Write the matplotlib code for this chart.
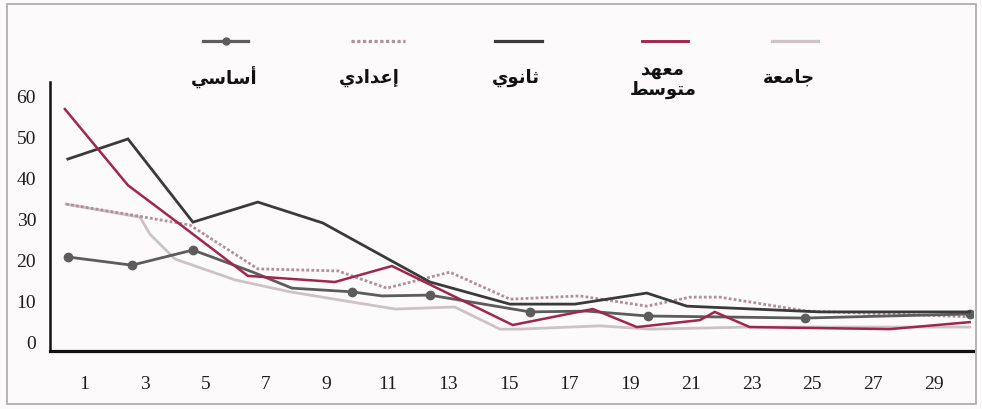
import unicodedata
import matplotlib
matplotlib.use("Agg")
import matplotlib.pyplot as plt
from matplotlib.lines import Line2D
from matplotlib.patches import Rectangle

# ---- data -------------------------------------------------------------
xtick_values = [1, 3, 5, 7, 9, 11, 13, 15, 17, 19, 21, 23, 25, 27, 29]
ytick_values = [0, 10, 20, 30, 40, 50, 60]

basic_x = [0.47, 2.58, 4.59, 6.57, 7.85, 9.83, 10.82, 12.40, 15.70, 17.57, 19.58, 24.76, 30.19]
basic_y = [20.5, 18.5, 22.2, 16.8, 12.9, 12.0, 11.0, 11.2, 7.1, 7.3, 6.1, 5.6, 6.6]
basic_marks = [0, 1, 2, 5, 7, 8, 10, 11, 12]

prep_x = [0.41, 2.78, 4.49, 6.73, 9.37, 10.98, 13.06, 15.04, 17.34, 19.55, 20.97, 21.96, 24.82, 30.19]
prep_y = [33.4, 30.5, 28.3, 17.6, 17.1, 12.9, 16.8, 10.2, 11.0, 8.5, 10.7, 10.7, 7.3, 5.9]

secondary_x = [0.47, 2.45, 4.59, 6.73, 8.87, 12.40, 15.04, 17.18, 19.55, 20.87, 25.25, 30.19]
secondary_y = [44.4, 49.3, 29.0, 33.9, 28.8, 14.4, 9.0, 9.0, 11.7, 8.5, 7.1, 7.1]

institute_x = [0.37, 2.45, 4.16, 6.40, 9.27, 11.15, 15.13, 17.77, 19.22, 21.30, 21.79, 22.94, 27.56, 30.19]
institute_y = [56.6, 38.0, 28.5, 15.9, 14.4, 18.3, 3.9, 7.8, 3.4, 5.1, 7.1, 3.4, 2.9, 4.6]

university_x = [0.41, 2.85, 3.17, 4.00, 5.98, 7.79, 9.60, 11.25, 13.22, 14.71, 15.37, 18.00, 19.65, 22.94, 30.19]
university_y = [33.4, 30.2, 26.1, 20.0, 14.9, 12.0, 9.8, 7.8, 8.3, 2.9, 2.9, 3.7, 2.9, 3.4, 3.4]

labels = ["أساسي", "إعدادي", "ثانوي", "معهد\nمتوسط", "جامعة"]

# ---- minimal Arabic shaping (matplotlib has no contextual layout) -----
FORMS = {
    # letter: (isolated, final, initial, medial)
    "\u0627": ("\uFE8D", "\uFE8E", None, None),
    "\u0623": ("\uFE83", "\uFE84", None, None),
    "\u0625": ("\uFE87", "\uFE88", None, None),
    "\u0629": ("\uFE93", "\uFE94", None, None),
    "\u062A": ("\uFE95", "\uFE96", "\uFE97", "\uFE98"),
    "\u062B": ("\uFE99", "\uFE9A", "\uFE9B", "\uFE9C"),
    "\u062C": ("\uFE9D", "\uFE9E", "\uFE9F", "\uFEA0"),
    "\u062F": ("\uFEA9", "\uFEAA", None, None),
    "\u0633": ("\uFEB1", "\uFEB2", "\uFEB3", "\uFEB4"),
    "\u0637": ("\uFEC1", "\uFEC2", "\uFEC3", "\uFEC4"),
    "\u0639": ("\uFEC9", "\uFECA", "\uFECB", "\uFECC"),
    "\u0645": ("\uFEE1", "\uFEE2", "\uFEE3", "\uFEE4"),
    "\u0646": ("\uFEE5", "\uFEE6", "\uFEE7", "\uFEE8"),
    "\u0647": ("\uFEE9", "\uFEEA", "\uFEEB", "\uFEEC"),
    "\u0648": ("\uFEED", "\uFEEE", None, None),
    "\u064A": ("\uFEF1", "\uFEF2", "\uFEF3", "\uFEF4"),
}


def shape_word(word):
    word = unicodedata.normalize("NFC", word)
    out = []
    n = len(word)
    for i, ch in enumerate(word):
        iso, fin, ini, med = FORMS[ch]
        prev_joins = i > 0 and FORMS[word[i - 1]][2] is not None
        next_joins = i < n - 1 and ini is not None
        if prev_joins and next_joins:
            out.append(med)
        elif prev_joins:
            out.append(fin)
        elif next_joins:
            out.append(ini)
        else:
            out.append(iso)
    return "".join(reversed(out))


def shape(text):
    return "\n".join(shape_word(line) for line in text.split("\n"))


# ---- styling ------------------------------------------------------------
W, H = 982, 410
fig = plt.figure(figsize=(W / 100, H / 100), dpi=100, facecolor="#fcfafa")

ax_left, ax_right, ax_bottom, ax_top = 50, 973, 352, 83
ax = fig.add_axes([ax_left / W, 1 - ax_bottom / H,
                   (ax_right - ax_left) / W, (ax_bottom - ax_top) / H])
ax.set_facecolor("#fcfafa")

series = [
    dict(x=basic_x, y=basic_y, color="#5c5c5c", lw=2.0, ls="-", marker="o",
         ms=6.0, markevery=basic_marks, z=4),
    dict(x=prep_x, y=prep_y, color="#b09098", lw=2.0, ls=(0, (1, 0.8)), marker=None,
         ms=0, markevery=None, z=3),
    dict(x=secondary_x, y=secondary_y, color="#3a3a3a", lw=2.0, ls="-", marker=None,
         ms=0, markevery=None, z=5),
    dict(x=institute_x, y=institute_y, color="#a0254f", lw=1.8, ls="-", marker=None,
         ms=0, markevery=None, z=6),
    dict(x=university_x, y=university_y, color="#cdc2c5", lw=2.0, ls="-", marker=None,
         ms=0, markevery=None, z=2),
]

for s in series:
    ax.plot(s["x"], s["y"], color=s["color"], lw=s["lw"], ls=s["ls"],
            marker=s["marker"], ms=s["ms"], markevery=s["markevery"],
            zorder=s["z"], solid_joinstyle="miter")

ax.set_xlim(-0.12, 30.3)
ax.set_ylim(-2.44, 63.2)
ax.set_xticks(xtick_values)
ax.set_xticklabels([str(v) for v in xtick_values])
ax.set_yticks(ytick_values)
ax.set_yticklabels([str(v) for v in ytick_values])
ax.tick_params(axis="both", length=0, labelsize=14, colors="#1e1e1e")
ax.tick_params(axis="x", pad=17)
ax.tick_params(axis="y", pad=10)
for lab in ax.get_xticklabels() + ax.get_yticklabels():
    lab.set_fontfamily("Liberation Serif")

for side in ("top", "right"):
    ax.spines[side].set_visible(False)
ax.spines["left"].set_linewidth(1.8)
ax.spines["bottom"].set_linewidth(2.3)
ax.spines["left"].set_color("#111111")
ax.spines["bottom"].set_color("#111111")

# ---- legend: short sample line above each label -------------------------
legend_line_x = [(203, 248), (351, 405), (495, 542), (642, 688), (772, 818)]
legend_text_x = [224, 369, 516, 663, 789]
line_y = 42
for s, (x0, x1), tx, lab in zip(series, legend_line_x, legend_text_x, labels):
    fig.add_artist(Line2D([x0 / W, x1 / W], [1 - line_y / H, 1 - line_y / H],
                          transform=fig.transFigure, color=s["color"], lw=s["lw"] + 0.3,
                          ls=s["ls"]))
    if s["marker"]:
        fig.add_artist(Line2D([(x0 + x1) / 2 / W], [1 - line_y / H],
                              transform=fig.transFigure, color=s["color"],
                              marker="o", ms=5.0, ls="none"))
    ty = 78 if "\n" not in lab else 80
    fig.text(tx / W, 1 - ty / H, shape(lab), ha="center", va="center",
             family=["DejaVu Sans"], fontweight="bold", fontsize=13,
             color="#111111", linespacing=1.15, multialignment="center")

# ---- outer frame ----------------------------------------------------------
fig.add_artist(Rectangle((7 / W, 5 / H), (976 - 7) / W, (405 - 5) / H,
                         transform=fig.transFigure, fill=False,
                         edgecolor="#b5b5b5", lw=1.4))

fig.savefig("out.png", dpi=100, facecolor=fig.get_facecolor())
